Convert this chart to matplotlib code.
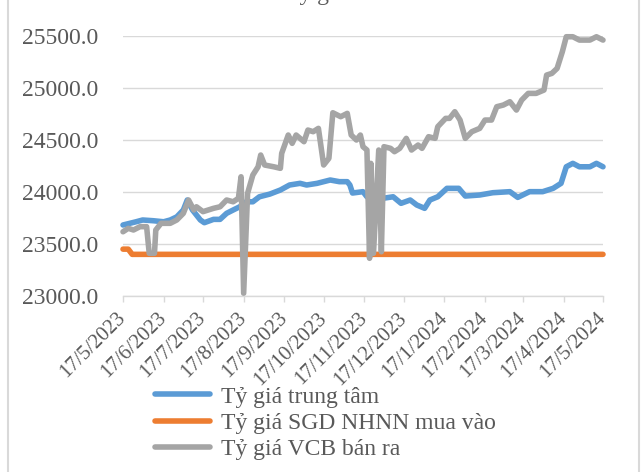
# plot.py
# Ty gia chart: central rate, SBV buying rate, VCB selling rate (May 2023 - May 2024)

import pandas as pd
import matplotlib.pyplot as plt
import matplotlib.ticker as mticker
from matplotlib.lines import Line2D

plt.rcParams["font.family"] = ["Liberation Serif", "DejaVu Serif"]

# --- data ---
central_dates = [
    "2023-05-17", "2023-05-27", "2023-06-01", "2023-06-09", "2023-06-17", "2023-06-22",
    "2023-06-27", "2023-07-02", "2023-07-05", "2023-07-09", "2023-07-15", "2023-07-18",
    "2023-07-25", "2023-07-30", "2023-08-04", "2023-08-09", "2023-08-14", "2023-08-19",
    "2023-08-24", "2023-08-29", "2023-09-06", "2023-09-14", "2023-09-21", "2023-09-29",
    "2023-10-04", "2023-10-12", "2023-10-22", "2023-10-29", "2023-11-04", "2023-11-06",
    "2023-11-08", "2023-11-16", "2023-11-19", "2023-12-01", "2023-12-09", "2023-12-15",
    "2023-12-22", "2023-12-27", "2024-01-02", "2024-01-06", "2024-01-12", "2024-01-19",
    "2024-01-28", "2024-02-02", "2024-02-13", "2024-02-23", "2024-03-07", "2024-03-13",
    "2024-03-22", "2024-04-01", "2024-04-09", "2024-04-15", "2024-04-19", "2024-04-24",
    "2024-04-29", "2024-05-07", "2024-05-12", "2024-05-17",
]
central_vals = [
    23682, 23713, 23730, 23723, 23713, 23730,
    23760, 23826, 23922, 23826, 23730, 23704,
    23736, 23736, 23794, 23826, 23857, 23905,
    23905, 23953, 23979, 24018, 24066, 24082,
    24066, 24082, 24114, 24098, 24098, 24066,
    23989, 24002, 23953, 23938, 23953, 23890,
    23922, 23874, 23842, 23922, 23953, 24034,
    24034, 23960, 23970, 23992, 24002, 23947,
    24002, 24002, 24034, 24082, 24241, 24274,
    24241, 24241, 24274, 24241,
]

sbv_dates = ["2023-05-17", "2023-05-21", "2023-05-24", "2024-05-17"]
sbv_vals = [23450, 23450, 23400, 23400]

vcb_dates = [
    "2023-05-17", "2023-05-21", "2023-05-25", "2023-05-30", "2023-06-04", "2023-06-06",
    "2023-06-10", "2023-06-11", "2023-06-15", "2023-06-22", "2023-06-27", "2023-07-02",
    "2023-07-06", "2023-07-10", "2023-07-12", "2023-07-17", "2023-07-25", "2023-07-30",
    "2023-08-04", "2023-08-09", "2023-08-13", "2023-08-15", "2023-08-17", "2023-08-20",
    "2023-08-24", "2023-08-28", "2023-08-30", "2023-09-02", "2023-09-09", "2023-09-14",
    "2023-09-15", "2023-09-20", "2023-09-23", "2023-09-26", "2023-10-02", "2023-10-05",
    "2023-10-09", "2023-10-13", "2023-10-17", "2023-10-21", "2023-10-24", "2023-10-30",
    "2023-11-04", "2023-11-07", "2023-11-11", "2023-11-14", "2023-11-16", "2023-11-19",
    "2023-11-21", "2023-11-22", "2023-11-24", "2023-11-28", "2023-11-30", "2023-12-02",
    "2023-12-07", "2023-12-10", "2023-12-14", "2023-12-19", "2023-12-23", "2023-12-28",
    "2023-12-31", "2024-01-05", "2024-01-10", "2024-01-12", "2024-01-18", "2024-01-21",
    "2024-01-25", "2024-01-29", "2024-02-02", "2024-02-07", "2024-02-13", "2024-02-17",
    "2024-02-22", "2024-02-26", "2024-03-02", "2024-03-07", "2024-03-12", "2024-03-16",
    "2024-03-21", "2024-03-27", "2024-04-02", "2024-04-04", "2024-04-08", "2024-04-12",
    "2024-04-16", "2024-04-19", "2024-04-24", "2024-04-29", "2024-05-07", "2024-05-12",
    "2024-05-17",
]
vcb_vals = [
    23617, 23650, 23634, 23666, 23666, 23410,
    23410, 23634, 23698, 23698, 23730, 23794,
    23922, 23826, 23857, 23810, 23842, 23857,
    23922, 23905, 23938, 24145, 23026, 23986,
    24162, 24241, 24354, 24258, 24241, 24226,
    24370, 24546, 24466, 24546, 24482, 24594,
    24578, 24610, 24258, 24322, 24760, 24722,
    24754, 24546, 24498, 24546, 24434, 24402,
    23362, 24274, 23410, 24402, 23425, 24434,
    24418, 24386, 24418, 24514, 24402, 24450,
    24418, 24530, 24514, 24626, 24706, 24706,
    24770, 24690, 24514, 24578, 24610, 24690,
    24690, 24818, 24834, 24866, 24786, 24882,
    24946, 24946, 24978, 25122, 25138, 25186,
    25346, 25490, 25490, 25458, 25458, 25490,
    25458,
]

tick_labels = [
    "17/5/2023", "17/6/2023", "17/7/2023", "17/8/2023", "17/9/2023", "17/10/2023",
    "17/11/2023", "17/12/2023", "17/1/2024", "17/2/2024", "17/3/2024", "17/4/2024",
    "17/5/2024",
]
series_names = ["Tỷ giá trung tâm", "Tỷ giá SGD NHNN mua vào", "Tỷ giá VCB bán ra"]
colors = ["#5B9BD5", "#ED7D31", "#A5A5A5"]

W, H = 643, 472
fig = plt.figure(figsize=(W / 100, H / 100), dpi=100)
ax = fig.add_axes([123 / W, 1 - 296 / H, 480 / W, (296 - 35.7) / H])

series = [
    (central_dates, central_vals),
    (sbv_dates, sbv_vals),
    (vcb_dates, vcb_vals),
]
for (d, v), name, c in zip(series, series_names, colors):
    ax.plot(pd.to_datetime(d), v, color=c, lw=4, label=name,
            solid_capstyle="round", solid_joinstyle="round", clip_on=False)

tick_dates = pd.to_datetime(tick_labels, format="%d/%m/%Y")
ax.set_xlim(tick_dates[0], tick_dates[-1])
ax.set_ylim(23000, 25500)
ax.set_yticks(range(23000, 25501, 500))
ax.yaxis.set_major_formatter(mticker.FormatStrFormatter("%.1f"))
ax.set_xticks(tick_dates)
ax.set_xticklabels(tick_labels)

ax.yaxis.grid(True, color="#D9D9D9", lw=1.0)
ax.set_axisbelow(True)
for s in ["top", "right", "left"]:
    ax.spines[s].set_visible(False)
ax.spines["bottom"].set_color("#D9D9D9")
ax.spines["bottom"].set_linewidth(1.0)

ax.tick_params(axis="y", length=0, pad=18, labelsize=17, labelcolor="#595959")
ax.tick_params(axis="x", length=4, width=1, color="#D9D9D9", pad=10,
               labelsize=15, labelcolor="#595959")
plt.setp(ax.get_xticklabels(), rotation=45, ha="right", va="center",
         rotation_mode="anchor")

# title is cut off at the top of the reference
fig.text(316 / W, 1.0, "Tỷ giá", ha="center", va="baseline", fontsize=17,
         color="#595959")

leg = fig.legend(loc="upper left", bbox_to_anchor=(155 / W, 1 - 386 / H),
                 frameon=False, fontsize=17, handlelength=2.35,
                 handletextpad=0.45, labelspacing=0.2, borderpad=0,
                 borderaxespad=0)
for t in leg.get_texts():
    t.set_color("#595959")

# chart area border (left and right edges)
for xp in [7.5, 638.5]:
    fig.add_artist(Line2D([xp / W, xp / W], [0, 1], color="#D9D9D9", lw=1.5,
                          transform=fig.transFigure))

fig.savefig("out.png", dpi=100)
